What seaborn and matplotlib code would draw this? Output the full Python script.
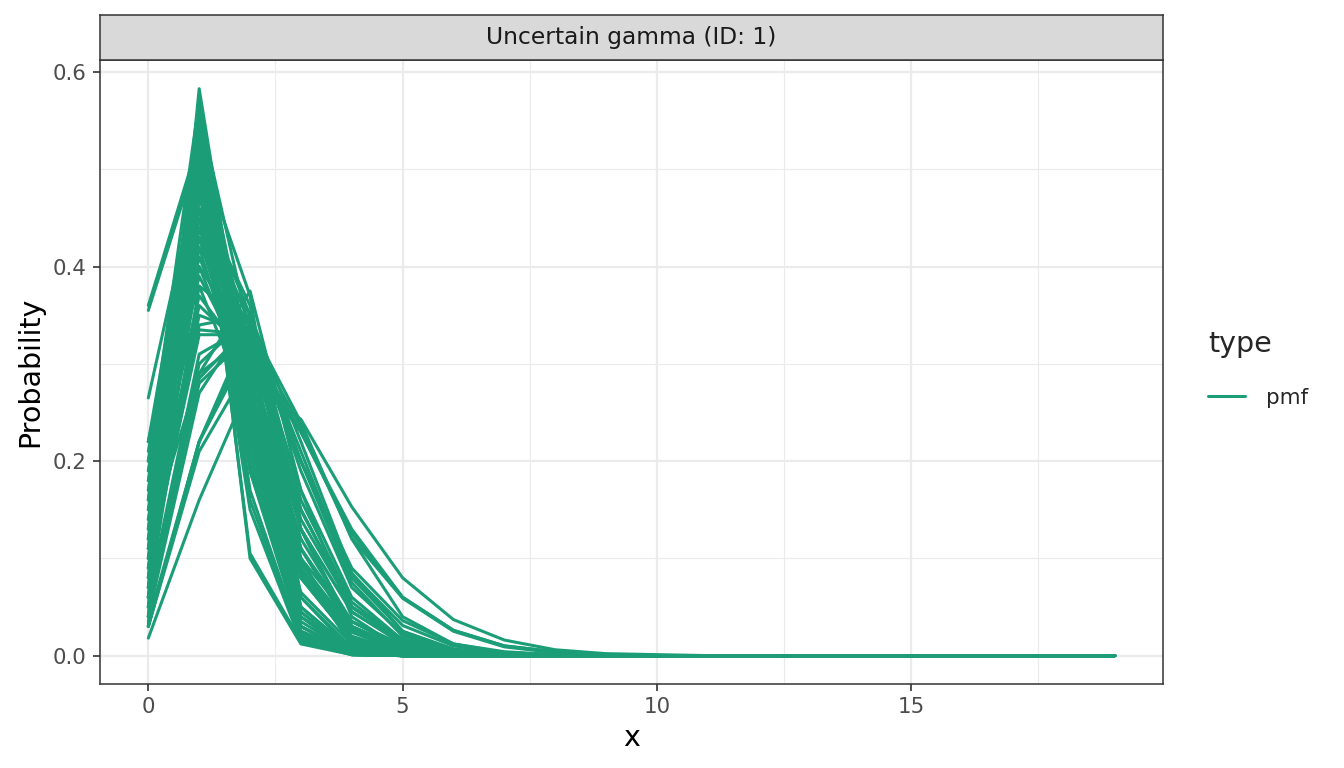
import numpy as np
import pandas as pd
import matplotlib
matplotlib.use("Agg")
import matplotlib.pyplot as plt
import seaborn as sns

# x support of the discretised pmf
x_values = list(range(20))

sharp_peaks = [
    [0.050, 0.583, 0.260, 0.030, 0.002, 0, 0, 0, 0, 0, 0, 0, 0, 0, 0, 0, 0, 0, 0, 0],
    [0.060, 0.575, 0.250, 0.025, 0.002, 0, 0, 0, 0, 0, 0, 0, 0, 0, 0, 0, 0, 0, 0, 0],
    [0.080, 0.560, 0.240, 0.025, 0.002, 0, 0, 0, 0, 0, 0, 0, 0, 0, 0, 0, 0, 0, 0, 0],
    [0.040, 0.550, 0.300, 0.045, 0.003, 0, 0, 0, 0, 0, 0, 0, 0, 0, 0, 0, 0, 0, 0, 0],
    [0.030, 0.560, 0.330, 0.040, 0.002, 0, 0, 0, 0, 0, 0, 0, 0, 0, 0, 0, 0, 0, 0, 0],
    [0.130, 0.550, 0.200, 0.020, 0.001, 0, 0, 0, 0, 0, 0, 0, 0, 0, 0, 0, 0, 0, 0, 0],
    [0.100, 0.530, 0.280, 0.045, 0.004, 0, 0, 0, 0, 0, 0, 0, 0, 0, 0, 0, 0, 0, 0, 0],
    [0.360, 0.530, 0.100, 0.012, 0.001, 0, 0, 0, 0, 0, 0, 0, 0, 0, 0, 0, 0, 0, 0, 0],
    [0.355, 0.520, 0.105, 0.015, 0.002, 0, 0, 0, 0, 0, 0, 0, 0, 0, 0, 0, 0, 0, 0, 0],
    [0.120, 0.520, 0.260, 0.040, 0.004, 0, 0, 0, 0, 0, 0, 0, 0, 0, 0, 0, 0, 0, 0, 0],
    [0.040, 0.520, 0.370, 0.060, 0.005, 0, 0, 0, 0, 0, 0, 0, 0, 0, 0, 0, 0, 0, 0, 0],
    [0.070, 0.510, 0.300, 0.050, 0.005, 0, 0, 0, 0, 0, 0, 0, 0, 0, 0, 0, 0, 0, 0, 0],
    [0.090, 0.500, 0.320, 0.060, 0.008, 0, 0, 0, 0, 0, 0, 0, 0, 0, 0, 0, 0, 0, 0, 0],
    [0.265, 0.500, 0.190, 0.030, 0.003, 0, 0, 0, 0, 0, 0, 0, 0, 0, 0, 0, 0, 0, 0, 0],
    [0.150, 0.500, 0.270, 0.050, 0.006, 0, 0, 0, 0, 0, 0, 0, 0, 0, 0, 0, 0, 0, 0, 0],
    [0.200, 0.570, 0.190, 0.022, 0.001, 0, 0, 0, 0, 0, 0, 0, 0, 0, 0, 0, 0, 0, 0, 0],
    [0.180, 0.540, 0.220, 0.030, 0.002, 0, 0, 0, 0, 0, 0, 0, 0, 0, 0, 0, 0, 0, 0, 0],
    [0.220, 0.520, 0.170, 0.018, 0.001, 0, 0, 0, 0, 0, 0, 0, 0, 0, 0, 0, 0, 0, 0, 0],
    [0.160, 0.560, 0.210, 0.025, 0.002, 0, 0, 0, 0, 0, 0, 0, 0, 0, 0, 0, 0, 0, 0, 0],
    [0.210, 0.500, 0.160, 0.016, 0.001, 0, 0, 0, 0, 0, 0, 0, 0, 0, 0, 0, 0, 0, 0, 0],
    [0.190, 0.480, 0.150, 0.014, 0.001, 0, 0, 0, 0, 0, 0, 0, 0, 0, 0, 0, 0, 0, 0, 0],
    [0.110, 0.545, 0.230, 0.030, 0.002, 0, 0, 0, 0, 0, 0, 0, 0, 0, 0, 0, 0, 0, 0, 0],
    [0.170, 0.510, 0.240, 0.035, 0.003, 0, 0, 0, 0, 0, 0, 0, 0, 0, 0, 0, 0, 0, 0, 0],
]

mid_peaks = [
    [0.110, 0.490, 0.300, 0.080, 0.015, 0.003, 0, 0, 0, 0, 0, 0, 0, 0, 0, 0, 0, 0, 0, 0],
    [0.130, 0.480, 0.290, 0.085, 0.015, 0.002, 0, 0, 0, 0, 0, 0, 0, 0, 0, 0, 0, 0, 0, 0],
    [0.160, 0.480, 0.260, 0.080, 0.016, 0.003, 0, 0, 0, 0, 0, 0, 0, 0, 0, 0, 0, 0, 0, 0],
    [0.070, 0.480, 0.350, 0.090, 0.010, 0.001, 0, 0, 0, 0, 0, 0, 0, 0, 0, 0, 0, 0, 0, 0],
    [0.080, 0.470, 0.340, 0.090, 0.015, 0.002, 0, 0, 0, 0, 0, 0, 0, 0, 0, 0, 0, 0, 0, 0],
    [0.060, 0.470, 0.360, 0.100, 0.010, 0.001, 0, 0, 0, 0, 0, 0, 0, 0, 0, 0, 0, 0, 0, 0],
    [0.140, 0.460, 0.290, 0.090, 0.018, 0.003, 0, 0, 0, 0, 0, 0, 0, 0, 0, 0, 0, 0, 0, 0],
    [0.220, 0.460, 0.240, 0.065, 0.012, 0.002, 0, 0, 0, 0, 0, 0, 0, 0, 0, 0, 0, 0, 0, 0],
    [0.190, 0.450, 0.260, 0.080, 0.017, 0.003, 0, 0, 0, 0, 0, 0, 0, 0, 0, 0, 0, 0, 0, 0],
    [0.100, 0.450, 0.310, 0.110, 0.025, 0.004, 0, 0, 0, 0, 0, 0, 0, 0, 0, 0, 0, 0, 0, 0],
    [0.050, 0.440, 0.350, 0.130, 0.025, 0.004, 0, 0, 0, 0, 0, 0, 0, 0, 0, 0, 0, 0, 0, 0],
    [0.170, 0.440, 0.270, 0.090, 0.024, 0.005, 0, 0, 0, 0, 0, 0, 0, 0, 0, 0, 0, 0, 0, 0],
    [0.120, 0.430, 0.300, 0.110, 0.030, 0.007, 0, 0, 0, 0, 0, 0, 0, 0, 0, 0, 0, 0, 0, 0],
    [0.200, 0.430, 0.260, 0.085, 0.020, 0.004, 0, 0, 0, 0, 0, 0, 0, 0, 0, 0, 0, 0, 0, 0],
    [0.200, 0.420, 0.250, 0.095, 0.027, 0.006, 0, 0, 0, 0, 0, 0, 0, 0, 0, 0, 0, 0, 0, 0],
    [0.070, 0.420, 0.340, 0.130, 0.030, 0.006, 0, 0, 0, 0, 0, 0, 0, 0, 0, 0, 0, 0, 0, 0],
    [0.150, 0.410, 0.280, 0.110, 0.035, 0.010, 0, 0, 0, 0, 0, 0, 0, 0, 0, 0, 0, 0, 0, 0],
    [0.090, 0.400, 0.320, 0.130, 0.045, 0.012, 0, 0, 0, 0, 0, 0, 0, 0, 0, 0, 0, 0, 0, 0],
    [0.180, 0.400, 0.270, 0.110, 0.030, 0.008, 0, 0, 0, 0, 0, 0, 0, 0, 0, 0, 0, 0, 0, 0],
    [0.160, 0.390, 0.290, 0.120, 0.035, 0.008, 0, 0, 0, 0, 0, 0, 0, 0, 0, 0, 0, 0, 0, 0],
    [0.220, 0.380, 0.250, 0.100, 0.035, 0.011, 0, 0, 0, 0, 0, 0, 0, 0, 0, 0, 0, 0, 0, 0],
    [0.060, 0.380, 0.340, 0.150, 0.050, 0.015, 0, 0, 0, 0, 0, 0, 0, 0, 0, 0, 0, 0, 0, 0],
]

broad_peaks = [
    [0.140, 0.370, 0.300, 0.130, 0.045, 0.013, 0.003, 0.001, 0, 0, 0, 0, 0, 0, 0, 0, 0, 0, 0, 0],
    [0.110, 0.360, 0.310, 0.150, 0.050, 0.014, 0.004, 0.001, 0, 0, 0, 0, 0, 0, 0, 0, 0, 0, 0, 0],
    [0.100, 0.350, 0.330, 0.150, 0.050, 0.015, 0.004, 0.001, 0, 0, 0, 0, 0, 0, 0, 0, 0, 0, 0, 0],
    [0.080, 0.340, 0.350, 0.160, 0.055, 0.015, 0.003, 0.001, 0, 0, 0, 0, 0, 0, 0, 0, 0, 0, 0, 0],
    [0.120, 0.335, 0.330, 0.140, 0.050, 0.017, 0.005, 0.001, 0, 0, 0, 0, 0, 0, 0, 0, 0, 0, 0, 0],
    [0.090, 0.330, 0.330, 0.170, 0.060, 0.016, 0.004, 0.001, 0, 0, 0, 0, 0, 0, 0, 0, 0, 0, 0, 0],
    [0.060, 0.310, 0.340, 0.190, 0.070, 0.022, 0.006, 0.002, 0, 0, 0, 0, 0, 0, 0, 0, 0, 0, 0, 0],
    [0.050, 0.300, 0.350, 0.200, 0.075, 0.020, 0.005, 0.001, 0, 0, 0, 0, 0, 0, 0, 0, 0, 0, 0, 0],
    [0.120, 0.290, 0.375, 0.170, 0.040, 0.006, 0.001, 0, 0, 0, 0, 0, 0, 0, 0, 0, 0, 0, 0, 0],
    [0.040, 0.290, 0.330, 0.200, 0.084, 0.031, 0.010, 0.003, 0.001, 0, 0, 0, 0, 0, 0, 0, 0, 0, 0, 0],
    [0.060, 0.280, 0.330, 0.200, 0.090, 0.036, 0.012, 0.004, 0.001, 0, 0, 0, 0, 0, 0, 0, 0, 0, 0, 0],
    [0.050, 0.285, 0.340, 0.210, 0.080, 0.025, 0.007, 0.002, 0, 0, 0, 0, 0, 0, 0, 0, 0, 0, 0, 0],
    [0.040, 0.270, 0.350, 0.220, 0.085, 0.025, 0.006, 0.001, 0, 0, 0, 0, 0, 0, 0, 0, 0, 0, 0, 0],
    [0.030, 0.220, 0.320, 0.230, 0.126, 0.060, 0.026, 0.010, 0.004, 0.001, 0, 0, 0, 0, 0, 0, 0, 0, 0, 0],
    [0.035, 0.220, 0.330, 0.235, 0.121, 0.059, 0.025, 0.009, 0.003, 0.001, 0, 0, 0, 0, 0, 0, 0, 0, 0, 0],
    [0.030, 0.220, 0.340, 0.240, 0.120, 0.040, 0.012, 0.003, 0.001, 0, 0, 0, 0, 0, 0, 0, 0, 0, 0, 0],
    [0.030, 0.210, 0.300, 0.230, 0.130, 0.060, 0.026, 0.010, 0.004, 0.001, 0, 0, 0, 0, 0, 0, 0, 0, 0, 0],
    [0.018, 0.160, 0.280, 0.243, 0.153, 0.080, 0.037, 0.016, 0.006, 0.002, 0.001, 0, 0, 0, 0, 0, 0, 0, 0, 0],
]

series_type = "pmf"
panel_title = "Uncertain gamma (ID: 1)"

# long table: one row per (sample, x)
rows = []
sample_id = 0
for group in (sharp_peaks, mid_peaks, broad_peaks):
    for pmf in group:
        for xv, pv in zip(x_values, pmf):
            rows.append({"sample": sample_id, "x": xv, "value": pv, "type": series_type})
        sample_id += 1
df = pd.DataFrame(rows)

sns.set_theme(style="white")
plt.rcParams["font.family"] = ["DejaVu Sans"]

W, H = 1344, 768
fig = plt.figure(figsize=(W / 100, H / 100), dpi=100)
pl, pr, pt, pb = 100, 1163, 60, 684
ax = fig.add_axes([pl / W, 1 - pb / H, (pr - pl) / W, (pb - pt) / H])
ax.set_facecolor("white")

sns.lineplot(data=df, x="x", y="value", hue="type", units="sample", estimator=None,
             palette=["#1B9E77"], linewidth=2.2, sort=False, ax=ax)

ax.set_xlim(-0.95, 19.95)
ax.set_ylim(-0.0292, 0.6125)
ax.set_xticks([0, 5, 10, 15])
ax.set_xticklabels(["0", "5", "10", "15"])
ax.set_yticks([0.0, 0.2, 0.4, 0.6])
ax.set_yticklabels(["0.0", "0.2", "0.4", "0.6"])
ax.set_xticks([2.5, 7.5, 12.5, 17.5], minor=True)
ax.set_yticks([0.1, 0.3, 0.5], minor=True)
ax.set_axisbelow(True)
ax.grid(which="major", color="#EBEBEB", linewidth=1.6)
ax.grid(which="minor", color="#EBEBEB", linewidth=0.8)
ax.tick_params(which="major", length=5.0, width=1.2, color="#333333",
               labelsize=15.4, labelcolor="#4D4D4D", pad=4.5, bottom=True, left=True)
ax.tick_params(which="minor", length=0)
for s in ax.spines.values():
    s.set_color("#333333")
    s.set_linewidth(1.1)

ax.set_xlabel("x", fontsize=20.5, color="black", labelpad=5)
ax.set_ylabel("Probability", fontsize=20.5, color="black", labelpad=6)

# facet strip
sax = fig.add_axes([pl / W, 1 - pt / H, (pr - pl) / W, 45 / H])
sax.set_facecolor("#D9D9D9")
sax.set_xticks([])
sax.set_yticks([])
for s in sax.spines.values():
    s.set_color("#333333")
    s.set_linewidth(1.1)
sax.text(0.5, 0.5, panel_title, ha="center", va="center", fontsize=16.8,
         color="#1A1A1A", transform=sax.transAxes)

sns.move_legend(ax, "upper left", bbox_to_anchor=(1208 / W, 1 - 330 / H),
                bbox_transform=fig.transFigure, frameon=False, title="type",
                fontsize=15.4, title_fontsize=20.5, handlelength=1.75,
                handletextpad=0.95, alignment="left", labelspacing=1.4,
                borderpad=0, borderaxespad=0)

fig.savefig("out.png", dpi=100)
